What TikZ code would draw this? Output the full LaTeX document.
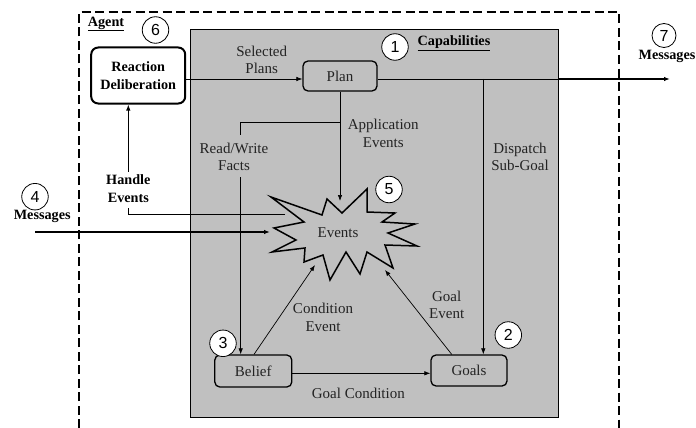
\documentclass[tikz,border=0pt]{standalone}
\usepackage{fontspec}
\setmainfont{Liberation Serif}
\newfontfamily\numfont{Liberation Sans}
\usetikzlibrary{arrows.meta}
\definecolor{capfill}{RGB}{192,192,192}
\definecolor{labeltext}{RGB}{35,35,35}

\begin{document}
\begin{tikzpicture}[x=1pt,y=-1pt,
  every node/.style={inner sep=0pt},
  lbl/.style={align=center, text=labeltext, font=\fontsize{15}{17.5}\selectfont},
  blbl/.style={align=center, font=\fontsize{14.2}{17.3}\selectfont\bfseries},
  compbox/.style={draw, line width=1.3pt, rounded corners=5pt, fill=capfill,
    font=\fontsize{15}{17.5}\selectfont, text=labeltext},
  reactbox/.style={draw, line width=2pt, rounded corners=7pt, fill=white,
    align=center, font=\fontsize{14.2}{17.3}\selectfont\bfseries},
  num/.style={circle, draw, fill=white, line width=0.8pt, minimum size=26.5pt,
    font=\fontsize{16}{16}\selectfont\numfont},
  tip/.style={-{Latex[length=6pt,width=4.5pt]}},
  flow/.style={line width=0.7pt, tip},
  plainflow/.style={line width=0.7pt},
  outflow/.style={line width=1.4pt, tip},
  starline/.style={line width=1.5pt, line join=miter, fill=capfill},
  agentline/.style={line width=2.2pt, dash pattern=on 9pt off 4.5pt}
]
\useasboundingbox (0,0) rectangle (696,428);

% agent boundary (continues past the lower edge)
\draw[agentline] (79,428) -- (79,12) -- (619,12) -- (619,428);

% capabilities area
\draw[line width=1.5pt, fill=capfill] (190.7,29.3) rectangle (558.3,417.3);

% events burst
\draw[starline] (271,197) -- (322,215) -- (327,199) -- (342,213) -- (367,189)
  -- (367,212) -- (395,213) -- (382,222) -- (415,224) -- (388,233)
  -- (417,246) -- (385,245) -- (393,268) -- (367,252) -- (360,274)
  -- (346,252) -- (330,280) -- (323,255) -- (304,262) -- (305,248)
  -- (272,252) -- (296,240) -- (274,228) -- (304,222) -- cycle;
\node[lbl] (events) at (338,233) {Events};
\coordinate (evtop) at (340,201);
\coordinate (evlefth) at (285,214);
\coordinate (evleftm) at (270,232);
\coordinate (evbl) at (315,265);
\coordinate (evbr) at (385,270);

% titles
\node[blbl] (agent) at (106,24) {\underline{Agent}};
\node[blbl] (caps) at (454,43) {\underline{Capabilities}};

% components
\node[reactbox, minimum width=94pt, minimum height=56pt] (react) at (138.2,75.5)
  {Reaction\\Deliberation};
\node[compbox, minimum width=74pt, minimum height=30pt] (plan) at (340,76) {Plan};
\node[compbox, minimum width=77pt, minimum height=32pt] (belief) at (253.3,371) {Belief};
\node[compbox, minimum width=76pt, minimum height=31pt] (goals) at (469,370.5) {Goals};

% labels
\node[lbl] (selplans) at (261.7,60) {Selected\\Plans};
\node[lbl] (appev) at (383.3,133.5) {Application\\Events};
\node[lbl] (dispatch) at (520,157) {Dispatch\\Sub-Goal};
\node[lbl] (rwfacts) at (234,157) {Read/Write\\Facts};
\node[lbl] (condev) at (323,317.5) {Condition\\Event};
\node[lbl] (goalev) at (446.7,305) {Goal\\Event};
\node[lbl] (goalcond) at (358.3,393.5) {Goal Condition};
\node[blbl] (handle) at (128.3,188.7) {Handle\\Events};
\node[blbl] (msgin) at (42.2,216.7) {Messages};
\node[blbl] (msgout) at (667,56) {Messages};

% Reaction -> Plan
\draw[flow] (react.east |- 0,79) -- (plan.west |- 0,79);

% Plan -> Events, with Read/Write branch to Belief
\draw[flow] (plan.south) -- (evtop);
\coordinate (rwj) at (340,122.3);
\coordinate (rwa) at (240.7,135);
\coordinate (rwb) at (240.7,177);
\draw[plainflow] (rwj) -| (rwa);
\draw[flow] (rwb) -- (rwb |- belief.north);

% Plan -> outgoing messages, with dispatch to Goals
\coordinate (capedge) at (558.3,79);
\coordinate (mout) at (670,79);
\draw[plainflow] (plan.east |- 0,79) -- (capedge);
\draw[outflow] (capedge) -- (mout);
\coordinate (dj) at (483.3,79);
\draw[flow] (dj) -- (dj |- goals.north);

% incoming messages -> Events
\coordinate (min) at (35,232);
\draw[line width=1.2pt, tip] (min) -- (evleftm);

% Events -> Reaction (handle events)
\coordinate (hb) at (128.3,207.5);
\coordinate (ht) at (128.3,171.5);
\draw[line width=0.9pt] (evlefth) -| (hb);
\draw[line width=1.1pt, tip] (ht) -- (react.south -| ht);

% Belief / Goals -> Events, Belief -> Goals
\draw[flow] (belief.north -| 254,0) -- (evbl);
\draw[flow] (goals.north -| 451.7,0) -- (evbr);
\draw[flow] (belief.east |- 0,373.3) -- (goals.west |- 0,373.3);

% numbered markers
\node[num] (n1) at (395,47) {1};
\node[num] (n2) at (508.3,335) {2};
\node[num] (n3) at (223,343.3) {3};
\node[num] (n4) at (35,196.7) {4};
\node[num] (n5) at (389,189.5) {5};
\node[num] (n6) at (155.5,30) {6};
\node[num, minimum size=24pt] (n7) at (664,35.5) {7};
\end{tikzpicture}
\end{document}
